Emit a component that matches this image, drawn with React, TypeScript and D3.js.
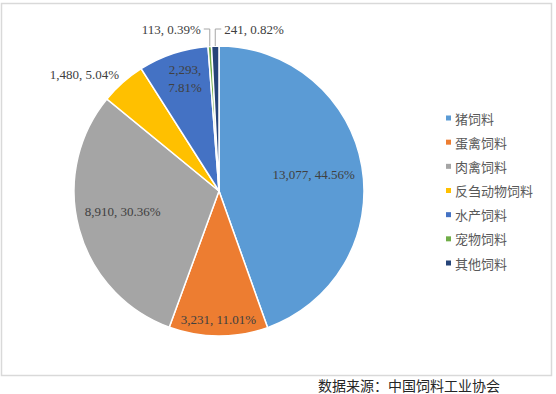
import * as d3 from 'd3';

const categories = ['猪饲料', '蛋禽饲料', '肉禽饲料', '反刍动物饲料', '水产饲料', '宠物饲料', '其他饲料'];
const values = [13077, 3231, 8910, 1480, 2293, 113, 241];
const colors = ['#5B9BD5', '#ED7D31', '#A5A5A5', '#FFC000', '#4472C4', '#70AD47', '#264478'];
const sourceNote = '数据来源：中国饲料工业协会';

// label placement: radius along slice mid-angle plus a small nudge; leader = outside label with elbow line
const labelLayout = [
  { r: 96, dx: 0, dy: 0 },
  { r: 129, dx: 0, dy: 0 },
  { r: 100, dx: 0, dy: -6 },
  { r: 150, dx: -35, dy: -4 },
  { r: 117, dx: 3, dy: -2, split: true },
  { leader: 'left' },
  { leader: 'right' },
];

const W = 556;
const H = 394;
const cx = 219;
const cy = 191;
const R = 145;
const font = "'Liberation Serif', 'Times New Roman', 'Noto Sans CJK SC', serif";
const cjkFont = "'Noto Sans CJK SC', 'Liberation Serif', serif";

export default function App() {
  const total = d3.sum(values);
  const pie = d3.pie<number>().sort(null).startAngle(0).endAngle(2 * Math.PI);
  const arcs = pie(values);
  const arc = d3.arc<d3.PieArcDatum<number>>().innerRadius(0).outerRadius(R);
  const fmtNum = d3.format(',');
  const fmtPct = d3.format('.2%');

  const legendY = d3.scalePoint<string>().domain(categories).range([118, 263]);

  return (
    <svg width={W} height={H} style={{ position: 'absolute', left: 0, top: 0, background: '#fff' }}>
      <rect x={1.5} y={3.5} width={550} height={372} fill="#fff" stroke="#d9d9d9" strokeWidth={1.5} />
      <g transform={`translate(${cx},${cy})`}>
        {arcs.map((a, i) => (
          <path key={i} d={arc(a) || ''} fill={colors[i]} stroke="#fff" strokeWidth={1.5} />
        ))}
        {arcs.map((a, i) => {
          const lay: any = labelLayout[i];
          const mid = (a.startAngle + a.endAngle) / 2;
          const text = `${fmtNum(values[i])}, ${fmtPct(values[i] / total)}`;
          if (lay.leader) {
            const ex = R * Math.sin(mid);
            const ey = -R * Math.cos(mid);
            const topY = -162;
            const dir = lay.leader === 'left' ? -1 : 1;
            const hx = ex + dir * 6;
            return (
              <g key={'l' + i}>
                <polyline points={`${ex},${ey} ${ex},${topY} ${hx},${topY}`} fill="none" stroke="#a6a6a6" strokeWidth={1} />
                <text x={hx + dir * 3} y={topY} textAnchor={dir < 0 ? 'end' : 'start'} dominantBaseline="central"
                  fontSize={13} fill="#404040" fontFamily={font}>{text}</text>
              </g>
            );
          }
          const x = lay.r * Math.sin(mid) + lay.dx;
          const y = -lay.r * Math.cos(mid) + lay.dy;
          if (lay.split) {
            return (
              <text key={'l' + i} x={x} y={y} textAnchor="middle" fontSize={13} fill="#404040" fontFamily={font}>
                <tspan x={x} dy={-4}>{fmtNum(values[i]) + ','}</tspan>
                <tspan x={x} dy={18}>{fmtPct(values[i] / total)}</tspan>
              </text>
            );
          }
          return (
            <text key={'l' + i} x={x} y={y} textAnchor="middle" dominantBaseline="central"
              fontSize={13} fill="#404040" fontFamily={font}>{text}</text>
          );
        })}
      </g>
      <g>
        {categories.map((c, i) => (
          <g key={c} transform={`translate(446,${legendY(c)})`}>
            <rect x={0} y={-2.5} width={5} height={5} fill={colors[i]} />
            <text x={9} y={0} dominantBaseline="central" fontSize={13} fill="#595959" fontFamily={cjkFont}>{c}</text>
          </g>
        ))}
      </g>
      <text x={318} y={385} dominantBaseline="central" fontSize={14} fill="#262626" fontFamily={cjkFont}>{sourceNote}</text>
    </svg>
  );
}
